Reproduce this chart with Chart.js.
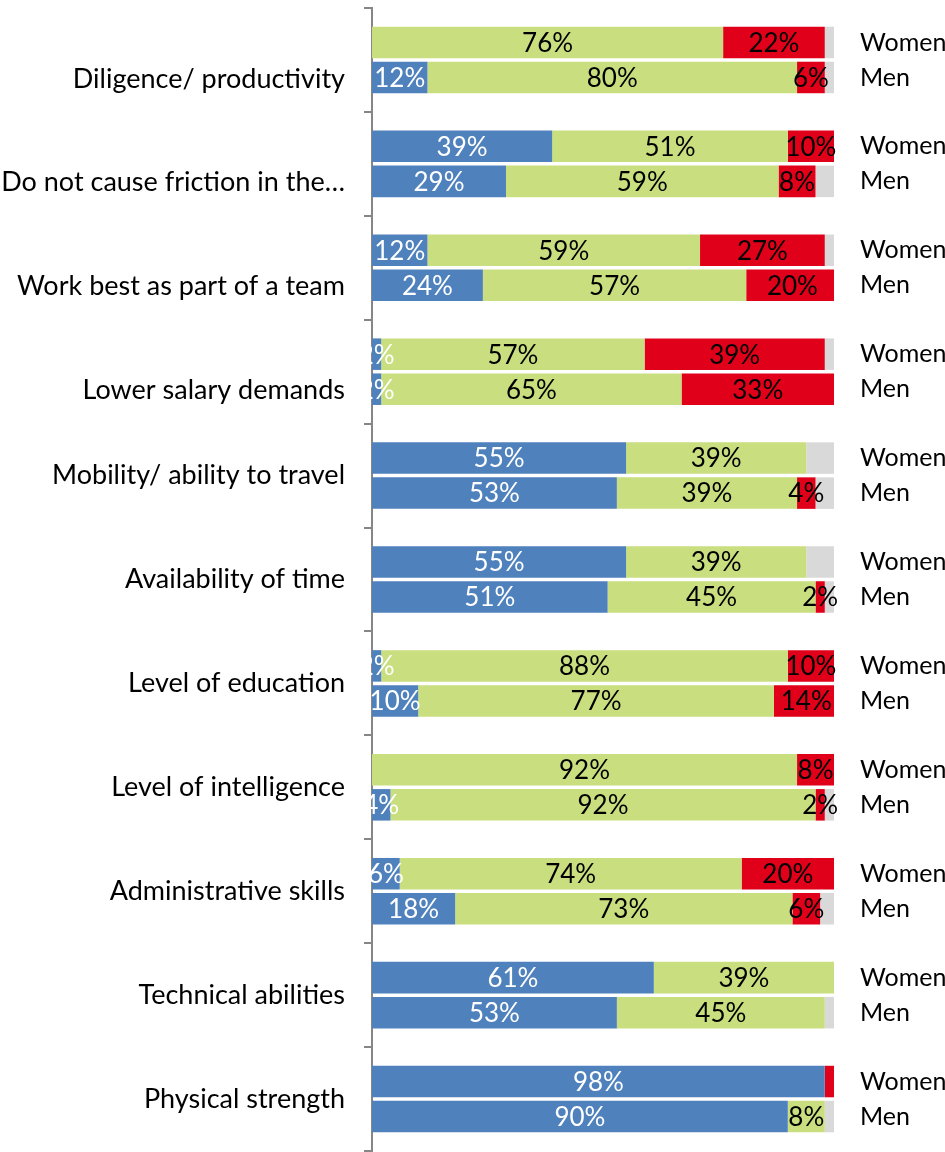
<!DOCTYPE html>
<html>
<head>
<meta charset="utf-8">
<script src="https://cdn.jsdelivr.net/npm/chart.js@4/dist/chart.umd.min.js"></script>
<style>
  html, body { margin: 0; padding: 0; background: #ffffff; }
  #wrap { width: 945px; height: 1152px; }
</style>
</head>
<body>
<div id="wrap"><canvas id="c" width="945" height="1152"></canvas></div>
<script>
const categories = [
  "Diligence/ productivity",
  "Do not cause friction in the\u2026",
  "Work best as part of a team",
  "Lower salary demands",
  "Mobility/ ability to travel",
  "Availability of time",
  "Level of education",
  "Level of intelligence",
  "Administrative skills",
  "Technical abilities",
  "Physical strength"
];
const groupLabels = ["Women", "Men"];

const womenBlue  = [0, 39, 12, 2, 55, 55, 2, 0, 6, 61, 98];
const womenGreen = [76, 51, 59, 57, 39, 39, 88, 92, 74, 39, 0];
const womenRed   = [22, 10, 27, 39, 0, 0, 10, 8, 20, 0, 2];
const womenGrey  = [2, 0, 2, 2, 6, 6, 0, 0, 0, 0, 0];

const menBlue  = [12, 29, 24, 2, 53, 51, 10, 4, 18, 53, 90];
const menGreen = [80, 59, 57, 65, 39, 45, 77, 92, 73, 45, 8];
const menRed   = [6, 8, 20, 33, 4, 2, 14, 2, 6, 0, 0];
const menGrey  = [2, 4, 0, 0, 4, 2, 0, 2, 3, 2, 2];

// segment labels that are not printed in the original
const unlabeled = [{ series: "womenRed", index: 10 }];
// in the original, these category labels carry a line break before the text
const labelsWithLeadingBreak = [0, 1, 2, 3];

const BLUE = "#4F81BD", GREEN = "#C9DE7E", RED = "#E0001A", GREY = "#D9D9D9";
const FONT = "Lato, 'Open Sans', sans-serif";

function ds(id, data, color, stack, labelColor) {
  return { id, label: id, data, backgroundColor: color, borderWidth: 0, stack,
           labelColor, categoryPercentage: 0.674, barPercentage: 0.9, clip: 0 };
}

const datasets = [
  ds("womenBlue", womenBlue, BLUE, "Women", "#ffffff"),
  ds("womenGreen", womenGreen, GREEN, "Women", "#000000"),
  ds("womenRed", womenRed, RED, "Women", "#000000"),
  ds("womenGrey", womenGrey, GREY, "Women", null),
  ds("menBlue", menBlue, BLUE, "Men", "#ffffff"),
  ds("menGreen", menGreen, GREEN, "Men", "#000000"),
  ds("menRed", menRed, RED, "Men", "#000000"),
  ds("menGrey", menGrey, GREY, "Men", null)
];

const labelPlugin = {
  id: "segLabels",
  afterDraw(chart) {
    const ctx = chart.ctx;
    ctx.save();
    ctx.font = "26px " + FONT;
    ctx.textAlign = "center";
    ctx.textBaseline = "middle";
    chart.data.datasets.forEach((d, di) => {
      if (!d.labelColor) return;
      const meta = chart.getDatasetMeta(di);
      meta.data.forEach((el, i) => {
        const v = d.data[i];
        if (!v) return;
        if (unlabeled.some(u => u.series === d.id && u.index === i)) return;
        const cx = (el.x + el.base) / 2;
        ctx.fillStyle = d.labelColor;
        ctx.fillText(v + "%", cx, el.y + 1);
      });
    });
    // Women / Men labels on the right
    ctx.textAlign = "left";
    ctx.fillStyle = "#000000";
    ctx.font = "25px " + FONT;
    const wMeta = chart.getDatasetMeta(0);
    const mMeta = chart.getDatasetMeta(4);
    const xr = chart.chartArea.right + 26;
    wMeta.data.forEach(el => ctx.fillText(groupLabels[0], xr, el.y));
    mMeta.data.forEach(el => ctx.fillText(groupLabels[1], xr, el.y));
    ctx.restore();
  }
};

new Chart(document.getElementById("c"), {
  type: "bar",
  data: { labels: categories, datasets },
  options: {
    indexAxis: "y",
    responsive: false,
    animation: false,
    devicePixelRatio: 1,
    layout: { padding: { left: 0, right: 111, top: 8, bottom: 1 } },
    plugins: { legend: { display: false }, tooltip: { enabled: false } },
    scales: {
      x: { stacked: true, min: 0, max: 100, display: false },
      y: {
        stacked: true,
        z: 1,
        offset: true,
        grid: { offset: true, drawOnChartArea: false, drawTicks: true, tickLength: 8,
                color: "#868686", lineWidth: 2 },
        border: { display: true, color: "#868686", width: 2 },
        ticks: {
          padding: 19, color: "#000000",
          font: { family: FONT, size: 27, lineHeight: 1.4 },
          callback(value, index) {
            const t = this.getLabelForValue(value);
            return labelsWithLeadingBreak.includes(index) ? ["", t] : t;
          }
        },
        afterFit(scale) { scale.width = 372; scale.paddingTop = 0; scale.paddingBottom = 0; }
      }
    }
  },
  plugins: [labelPlugin]
});
</script>
</body>
</html>
